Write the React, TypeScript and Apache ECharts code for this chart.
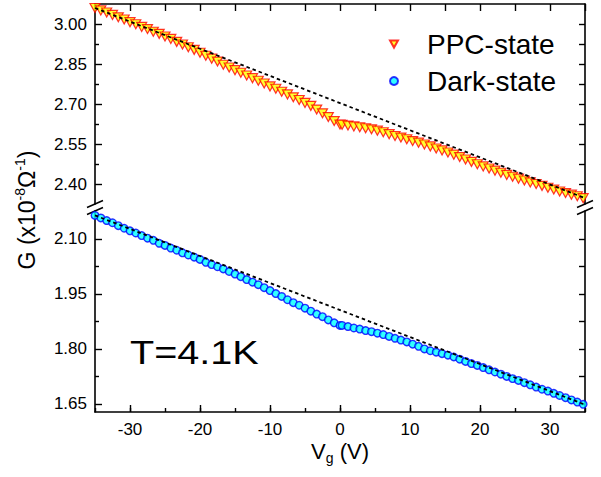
import React, { useEffect, useRef } from 'react';
import * as echarts from 'echarts';

// Gate voltage, first sweep (-35 V -> 0 V) and second sweep (0 V -> 35 V)
const vgDown = [-35, -34.17, -33.33, -32.5, -31.67, -30.83, -30, -29.17, -28.33, -27.5, -26.67, -25.83, -25, -24.17, -23.33, -22.5, -21.67, -20.83, -20, -19.17, -18.33, -17.5, -16.67, -15.83, -15, -14.17, -13.33, -12.5, -11.67, -10.83, -10, -9.17, -8.33, -7.5, -6.67, -5.83, -5, -4.17, -3.33, -2.5, -1.67, -0.83, 0];
const vgUp = [0.3, 1.14, 1.98, 2.82, 3.66, 4.5, 5.34, 6.18, 7.02, 7.86, 8.7, 9.54, 10.38, 11.22, 12.06, 12.9, 13.74, 14.58, 15.42, 16.26, 17.1, 17.94, 18.78, 19.62, 20.46, 21.3, 22.14, 22.98, 23.82, 24.66, 25.5, 26.34, 27.18, 28.02, 28.86, 29.7, 30.54, 31.38, 32.22, 33.06, 33.9, 34.74];

// PPC-state conductance (x1e-8 1/Ohm)
const ppcDown = [3.060, 3.051, 3.043, 3.034, 3.025, 3.017, 3.007, 2.999, 2.989, 2.981, 2.971, 2.963, 2.953, 2.944, 2.933, 2.923, 2.913, 2.903, 2.892, 2.881, 2.870, 2.859, 2.847, 2.837, 2.827, 2.817, 2.807, 2.797, 2.787, 2.777, 2.766, 2.757, 2.746, 2.736, 2.725, 2.715, 2.704, 2.693, 2.679, 2.665, 2.651, 2.636, 2.623];
const ppcUp = [2.622, 2.619, 2.616, 2.613, 2.609, 2.605, 2.600, 2.594, 2.587, 2.580, 2.574, 2.568, 2.561, 2.555, 2.548, 2.541, 2.533, 2.526, 2.518, 2.510, 2.501, 2.492, 2.483, 2.474, 2.466, 2.458, 2.450, 2.442, 2.434, 2.427, 2.420, 2.413, 2.406, 2.400, 2.393, 2.386, 2.379, 2.372, 2.366, 2.360, 2.354, 2.347];

// Dark-state conductance
const darkDown = [2.164, 2.157, 2.150, 2.144, 2.136, 2.129, 2.122, 2.116, 2.109, 2.102, 2.096, 2.088, 2.082, 2.075, 2.069, 2.062, 2.056, 2.050, 2.044, 2.036, 2.030, 2.024, 2.018, 2.011, 2.004, 1.997, 1.989, 1.982, 1.975, 1.967, 1.959, 1.951, 1.943, 1.934, 1.926, 1.919, 1.911, 1.903, 1.895, 1.888, 1.879, 1.871, 1.864];
const darkUp = [1.864, 1.861, 1.857, 1.854, 1.850, 1.847, 1.843, 1.839, 1.834, 1.829, 1.824, 1.819, 1.813, 1.807, 1.800, 1.795, 1.791, 1.787, 1.783, 1.778, 1.772, 1.766, 1.760, 1.755, 1.749, 1.743, 1.737, 1.731, 1.725, 1.719, 1.714, 1.708, 1.702, 1.696, 1.690, 1.685, 1.679, 1.673, 1.667, 1.661, 1.655, 1.649];

// Straight reference lines (dashed)
const ppcTrendV = [-35, 35];
const ppcTrendG = [3.060, 2.347];
const darkTrendV = [-35, 35];
const darkTrendG = [2.164, 1.648];

// Ticks
const xMajor = [-30, -20, -10, 0, 10, 20, 30];
const upperMajor = [2.40, 2.55, 2.70, 2.85, 3.00];
const upperMinor = [2.475, 2.625, 2.775, 2.925];
const lowerMajor = [1.65, 1.80, 1.95, 2.10];
const lowerMinor = [1.725, 1.875, 2.025];

const FONT = '"Liberation Sans", Arial, Helvetica, sans-serif';
const lineStyle = { color: '#000', width: 1.6 };
const tickStyle = { color: '#000', width: 1.4 };

const zip = (xs: number[], ys: number[]) => xs.map((x, i) => [x, ys[i]]);

function yAxisSet(grid: number, min: number, max: number, major: number[], minor: number[]) {
  const all = [...major, ...minor].sort((a, b) => a - b);
  return [
    {
      type: 'value', gridIndex: grid, position: 'left', min, max,
      axisLine: { show: true, onZero: false, lineStyle },
      axisTick: { show: true, inside: true, length: 7, lineStyle: tickStyle, customValues: major },
      axisLabel: {
        show: true, customValues: major, margin: 8, color: '#000', fontSize: 17, fontFamily: FONT,
        formatter: (v: number) => v.toFixed(2),
      },
      splitLine: { show: false },
    },
    {
      type: 'value', gridIndex: grid, position: 'left', min, max,
      axisLine: { show: false, onZero: false },
      axisTick: { show: true, inside: true, length: 4, lineStyle: tickStyle, customValues: minor },
      axisLabel: { show: false },
      splitLine: { show: false },
    },
    {
      type: 'value', gridIndex: grid, position: 'right', min, max,
      axisLine: { show: true, onZero: false, lineStyle },
      axisTick: { show: true, inside: true, length: 6, lineStyle: tickStyle, customValues: all },
      axisLabel: { show: false },
      splitLine: { show: false },
    },
  ];
}

export default function App() {
  const ref = useRef<HTMLDivElement>(null);
  useEffect(() => {
    const chart = echarts.init(ref.current!, null, { renderer: 'svg' });
    const option: any = {
      animation: false,
      backgroundColor: '#fff',
      grid: [
        { left: 95, width: 490, top: 4, height: 200 },
        { left: 95, width: 490, top: 211, height: 201 },
      ],
      xAxis: [
        {
          type: 'value', gridIndex: 0, position: 'top', min: -35, max: 35, interval: 5,
          axisLine: { show: true, onZero: false, lineStyle },
          axisTick: { show: true, inside: true, length: 7, lineStyle: tickStyle },
          axisLabel: { show: false }, splitLine: { show: false },
        },
        {
          type: 'value', gridIndex: 1, position: 'bottom', min: -35, max: 35, interval: 5,
          axisLine: { show: true, onZero: false, lineStyle },
          axisTick: { show: true, inside: true, length: 4, lineStyle: tickStyle },
          axisLabel: { show: true, customValues: xMajor, margin: 9, color: '#000', fontSize: 17, fontFamily: FONT },
          splitLine: { show: false },
        },
        {
          type: 'value', gridIndex: 1, position: 'bottom', min: -35, max: 35, interval: 5,
          axisLine: { show: false, onZero: false },
          axisTick: { show: true, inside: true, length: 7, lineStyle: tickStyle, customValues: xMajor },
          axisLabel: { show: false }, splitLine: { show: false },
        },
      ],
      yAxis: [
        ...yAxisSet(0, 2.325, 3.075, upperMajor, upperMinor),
        ...yAxisSet(1, 1.628, 2.176, lowerMajor, lowerMinor),
      ],
      legend: {
        data: ['PPC-state', 'Dark-state'],
        orient: 'vertical', left: 389, top: 30, padding: 0,
        itemWidth: 8, itemHeight: 8, itemGap: 9, selectedMode: false,
        textStyle: { fontSize: 28, fontFamily: FONT, color: '#000', lineHeight: 28, padding: [0, 0, 0, 24] },
      },
      series: [
        {
          type: 'scatter', name: 'PPC-state', xAxisIndex: 0, yAxisIndex: 0, clip: false,
          data: zip(vgDown, ppcDown).concat(zip(vgUp, ppcUp)),
          symbol: 'path://M0,0L10,0L5,9Z', symbolSize: [10, 9],
          itemStyle: { color: '#ffff00', borderColor: '#ff0000', borderWidth: 1.2 }, z: 2,
        },
        {
          type: 'line', name: 'ppcTrend', xAxisIndex: 0, yAxisIndex: 0,
          data: zip(ppcTrendV, ppcTrendG), symbol: 'none',
          lineStyle: { color: '#000', width: 1.8, type: [3.5, 3] }, z: 3,
        },
        {
          type: 'scatter', name: 'Dark-state', xAxisIndex: 1, yAxisIndex: 3, clip: false,
          data: zip(vgDown, darkDown).concat(zip(vgUp, darkUp)),
          symbol: 'circle', symbolSize: 7.5,
          itemStyle: { color: '#00ffff', borderColor: '#0000ff', borderWidth: 1.4 }, z: 2,
        },
        {
          type: 'line', name: 'darkTrend', xAxisIndex: 1, yAxisIndex: 3,
          data: zip(darkTrendV, darkTrendG), symbol: 'none',
          lineStyle: { color: '#000', width: 1.8, type: [3.5, 3] }, z: 3,
        },
      ],
      graphic: [
        { type: 'line', shape: { x1: 87, y1: 207.5, x2: 103, y2: 200.5 }, style: { stroke: '#000', lineWidth: 1.5 } },
        { type: 'line', shape: { x1: 87, y1: 214.5, x2: 103, y2: 207.5 }, style: { stroke: '#000', lineWidth: 1.5 } },
        { type: 'line', shape: { x1: 577, y1: 207.5, x2: 593, y2: 200.5 }, style: { stroke: '#000', lineWidth: 1.5 } },
        { type: 'line', shape: { x1: 577, y1: 214.5, x2: 593, y2: 207.5 }, style: { stroke: '#000', lineWidth: 1.5 } },
        {
          type: 'text', x: 130, y: 353, scaleX: 1.2,
          style: { text: 'T=4.1K', fontSize: 33, fontFamily: FONT, fill: '#000', align: 'left', verticalAlign: 'middle', textAlign: 'left', textVerticalAlign: 'middle' },
        },
        {
          type: 'text', x: 27, y: 210, rotation: Math.PI / 2,
          style: {
            text: '{a|G (x10}{s|-8}{a|Ω}{s|-1}{a|)}',
            align: 'center', verticalAlign: 'middle', textAlign: 'center', textVerticalAlign: 'middle',
            rich: {
              a: { fontSize: 23, fontFamily: FONT, fill: '#000', color: '#000', lineHeight: 28 },
              s: { fontSize: 14, fontFamily: FONT, fill: '#000', color: '#000', lineHeight: 14, verticalAlign: 'top' },
            },
          },
        },
        {
          type: 'text', x: 340, y: 451,
          style: {
            text: '{a|V}{b|g}{a| (V)}',
            align: 'center', verticalAlign: 'middle', textAlign: 'center', textVerticalAlign: 'middle',
            rich: {
              a: { fontSize: 22, fontFamily: FONT, fill: '#000', color: '#000', lineHeight: 28 },
              b: { fontSize: 14, fontFamily: FONT, fill: '#000', color: '#000', lineHeight: 14, verticalAlign: 'bottom' },
            },
          },
        },
      ],
    };
    chart.setOption(option);
    return () => chart.dispose();
  }, []);
  return <div ref={ref} style={{ position: 'fixed', left: 0, top: 0, width: 601, height: 477 }} />;
}
